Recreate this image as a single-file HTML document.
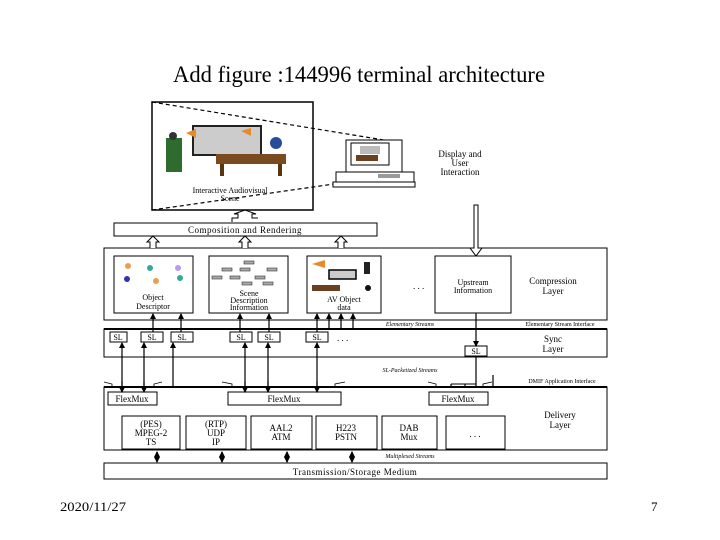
<!DOCTYPE html>
<html><head><meta charset="utf-8"><style>
html,body{margin:0;padding:0;background:#fff;width:720px;height:540px;overflow:hidden}
svg{display:block}
text{font-family:"Liberation Serif",serif;fill:#000}
</style></head><body>
<svg width="720" height="540" viewBox="0 0 720 540" xmlns="http://www.w3.org/2000/svg">
<defs>
<marker id="a" markerWidth="6" markerHeight="6" refX="5" refY="3" orient="auto" markerUnits="userSpaceOnUse"><path d="M0,0 L6,3 L0,6 z" fill="#000"/></marker>
<marker id="s" markerWidth="6" markerHeight="6" refX="5" refY="3" orient="auto-start-reverse" markerUnits="userSpaceOnUse"><path d="M0,0 L6,3 L0,6 z" fill="#000"/></marker>
</defs>
<text x="173" y="82" font-size="23" textLength="372" lengthAdjust="spacingAndGlyphs">Add figure :144996 terminal architecture</text>

<!-- scene -->
<rect x="152" y="102" width="161" height="108" fill="#fff" stroke="#000" stroke-width="1.5"/>
<line x1="152" y1="102" x2="402" y2="143" stroke="#000" stroke-dasharray="4,3" stroke-width="1.2"/>
<line x1="152" y1="210" x2="362" y2="180" stroke="#000" stroke-dasharray="4,3" stroke-width="1.2"/>
<rect x="193" y="126" width="68" height="29" fill="#ccc" stroke="#222" stroke-width="2"/>
<path d="M186,133 L196,129 L196,138 Z" fill="#e88a2a"/>
<path d="M241,131 L251,128 L251,136 Z" fill="#e88a2a"/>
<rect x="166" y="138" width="16" height="34" fill="#2e6b2e"/>
<circle cx="173" cy="136" r="4" fill="#333"/>
<rect x="216" y="154" width="70" height="10" fill="#7a4a20"/>
<rect x="220" y="164" width="4" height="12" fill="#5a3510"/>
<rect x="278" y="164" width="4" height="12" fill="#5a3510"/>
<circle cx="276" cy="143" r="6" fill="#2a4a9a"/>
<text x="230" y="193" font-size="8" text-anchor="middle">Interactive Audiovisual</text>
<text x="230" y="201" font-size="8" text-anchor="middle">Scene</text>
<!-- computer -->
<rect x="346" y="140" width="56" height="32" fill="#fff" stroke="#000"/>
<rect x="351" y="143" width="38" height="22" fill="#fff" stroke="#000"/>
<rect x="360" y="146" width="20" height="8" fill="#bbb"/>
<rect x="356" y="155" width="22" height="6" fill="#6a4020"/>
<rect x="336" y="172" width="78" height="10" fill="#fff" stroke="#000"/>
<rect x="378" y="174" width="22" height="4" fill="#999"/>
<rect x="333" y="182" width="82" height="5" fill="#fff" stroke="#000"/>
<text x="460" y="157" font-size="9" text-anchor="middle">Display and</text>
<text x="460" y="166" font-size="9" text-anchor="middle">User</text>
<text x="460" y="175" font-size="9" text-anchor="middle">Interaction</text>

<!-- composition -->
<path d="M232,222 L232,218 L238,218 L238,214 L234,214 L245,210 L256,214 L252,214 L252,218 L258,218" fill="none" stroke="#000"/>
<rect x="114" y="223" width="263" height="13" fill="#fff" stroke="#000"/>
<text x="245" y="233" font-size="9" text-anchor="middle" letter-spacing="0.5">Composition and Rendering</text>

<!-- compression layer -->
<rect x="104" y="248" width="503" height="72" fill="#fff" stroke="#000"/>
<g fill="#fff" stroke="#000">
<path d="M150,248 L150,242 L147,242 L153,236 L159,242 L156,242 L156,248"/>
<path d="M242,248 L242,242 L239,242 L245,236 L251,242 L248,242 L248,248"/>
<path d="M338,248 L338,242 L335,242 L341,236 L347,242 L344,242 L344,248"/>
<path d="M474,205 L474,248 L470,248 L476,256 L482,248 L478,248 L478,205 Z"/>
</g>
<rect x="114" y="256" width="79" height="57" fill="#fff" stroke="#000"/>
<rect x="209" y="256" width="79" height="57" fill="#fff" stroke="#000"/>
<rect x="307" y="256" width="74" height="57" fill="#fff" stroke="#000"/>
<rect x="435" y="256" width="76" height="57" fill="#fff" stroke="#000"/>
<circle cx="128" cy="266" r="3" fill="#e8a050"/><circle cx="150" cy="268" r="3" fill="#3a9"/><circle cx="178" cy="268" r="3" fill="#b9e"/>
<circle cx="127" cy="279" r="3" fill="#33a"/><circle cx="156" cy="281" r="3" fill="#e8a050"/><circle cx="180" cy="278" r="3" fill="#3a9"/>
<text x="153" y="300" font-size="8" text-anchor="middle">Object</text>
<text x="153" y="309" font-size="8" text-anchor="middle">Descriptor</text>
<g fill="#aaa" stroke="#333" stroke-width="0.6">
<rect x="244" y="261" width="10" height="3"/><rect x="222" y="268" width="10" height="3"/><rect x="240" y="268" width="10" height="3"/><rect x="267" y="268" width="10" height="3"/>
<rect x="212" y="276" width="10" height="3"/><rect x="230" y="276" width="10" height="3"/><rect x="255" y="276" width="10" height="3"/>
<rect x="242" y="282" width="10" height="3"/><rect x="263" y="282" width="10" height="3"/>
</g>
<text x="249" y="296" font-size="8" text-anchor="middle">Scene</text>
<text x="249" y="303" font-size="8" text-anchor="middle">Description</text>
<text x="249" y="310" font-size="8" text-anchor="middle">Information</text>
<path d="M312,264 L325,260 L325,268 Z" fill="#e88a2a"/>
<rect x="329" y="270" width="27" height="9" fill="#ccc" stroke="#000" stroke-width="1.5"/>
<rect x="312" y="285" width="28" height="6" fill="#6a4020"/>
<rect x="364" y="262" width="6" height="12" fill="#222"/><circle cx="368" cy="288" r="3" fill="#111"/>
<text x="344" y="302" font-size="8" text-anchor="middle">AV Object</text>
<text x="344" y="310" font-size="8" text-anchor="middle">data</text>
<text x="413" y="289" font-size="9">. . .</text>
<text x="473" y="285" font-size="8" text-anchor="middle">Upstream</text>
<text x="473" y="293" font-size="8" text-anchor="middle">Information</text>
<text x="553" y="284" font-size="9" text-anchor="middle">Compression</text>
<text x="553" y="294" font-size="9" text-anchor="middle">Layer</text>
<text x="410" y="326" font-size="6" font-style="italic" text-anchor="middle">Elementary Streams</text>
<text x="560" y="326" font-size="6" text-anchor="middle">Elementary Stream Interface</text>

<!-- sync layer -->
<rect x="104" y="329" width="503" height="28" fill="#fff" stroke="#000"/>
<line x1="104" y1="329" x2="607" y2="329" stroke="#000" stroke-width="2"/>
<g fill="#fff" stroke="#000">
<rect x="110" y="332" width="17" height="10"/><rect x="141" y="332" width="22" height="10"/><rect x="171" y="332" width="22" height="10"/>
<rect x="230" y="332" width="22" height="10"/><rect x="258" y="332" width="22" height="10"/><rect x="306" y="332" width="22" height="10"/>
<rect x="465" y="346" width="22" height="10"/>
</g>
<g font-size="8" text-anchor="middle">
<text x="118" y="340">SL</text><text x="152" y="340">SL</text><text x="182" y="340">SL</text>
<text x="241" y="340">SL</text><text x="269" y="340">SL</text><text x="317" y="340">SL</text><text x="476" y="354">SL</text>
</g>
<text x="337" y="341" font-size="9">. . .</text>
<text x="553" y="342" font-size="9" text-anchor="middle">Sync</text>
<text x="553" y="352" font-size="9" text-anchor="middle">Layer</text>
<g stroke="#000" stroke-width="1.2" marker-end="url(#a)">
<line x1="153" y1="332" x2="153" y2="314"/><line x1="181" y1="332" x2="181" y2="314"/>
<line x1="240" y1="332" x2="240" y2="314"/><line x1="269" y1="332" x2="269" y2="314"/>
<line x1="317" y1="332" x2="317" y2="314"/><line x1="329" y1="329" x2="329" y2="314"/><line x1="341" y1="329" x2="341" y2="314"/><line x1="353" y1="329" x2="353" y2="314"/>
<line x1="476" y1="313" x2="476" y2="346"/>
<line x1="122" y1="392" x2="122" y2="343"/><line x1="144" y1="392" x2="144" y2="343"/><line x1="173" y1="416" x2="173" y2="343"/>
<line x1="245" y1="392" x2="245" y2="343"/><line x1="268" y1="392" x2="268" y2="343"/><line x1="317" y1="392" x2="317" y2="343"/>
<line x1="476" y1="356" x2="476" y2="392"/><line x1="451" y1="384" x2="451" y2="392"/><line x1="465" y1="384" x2="465" y2="392"/>
<line x1="458" y1="405" x2="458" y2="416"/><line x1="493" y1="375" x2="493" y2="416"/>
<line x1="133" y1="416" x2="133" y2="405"/><line x1="282" y1="416" x2="282" y2="405"/>
</g>
<text x="410" y="372" font-size="6" font-style="italic" text-anchor="middle">SL-Packetized Streams</text>
<text x="562" y="383" font-size="6" text-anchor="middle">DMIF Application Interface</text>
<line x1="451" y1="384" x2="476" y2="384" stroke="#000"/>
<g stroke="#000" stroke-width="0.8" fill="none">
<path d="M104,382 L112,384 L112,392"/><path d="M154,392 L154,384 L162,382"/>
<path d="M222,382 L232,384 L232,392"/><path d="M335,392 L335,384 L345,382"/>
<path d="M428,382 L436,384 L436,392"/><path d="M483,392 L483,384 L492,382"/>
<path d="M112,407 L120,410 L120,416"/><path d="M176,416 L176,410 L188,408"/>
<path d="M264,409 L272,411 L272,416"/><path d="M290,416 L290,411 L298,409"/>
<path d="M438,409 L446,411 L446,416"/><path d="M503,416 L503,411 L512,409"/>
</g>

<!-- delivery layer -->
<rect x="104" y="387" width="503" height="63" fill="#fff" stroke="#000"/>
<line x1="104" y1="387" x2="607" y2="387" stroke="#000" stroke-width="2"/>
<g fill="#fff" stroke="#000">
<rect x="108" y="392" width="49" height="13"/><rect x="228" y="392" width="113" height="13"/><rect x="429" y="392" width="59" height="13"/>
<rect x="122" y="416" width="58" height="33"/><rect x="186" y="416" width="60" height="33"/><rect x="251" y="416" width="61" height="33"/>
<rect x="316" y="416" width="61" height="33"/><rect x="382" y="416" width="55" height="33"/><rect x="446" y="416" width="59" height="33"/>
</g>
<g stroke="#000" stroke-width="1.2" marker-end="url(#a)">
<line x1="122" y1="381" x2="122" y2="392"/><line x1="144" y1="381" x2="144" y2="392"/>
<line x1="245" y1="381" x2="245" y2="392"/><line x1="268" y1="381" x2="268" y2="392"/><line x1="317" y1="381" x2="317" y2="392"/>
</g>
<g font-size="9" text-anchor="middle">
<text x="132" y="402">FlexMux</text><text x="284" y="402">FlexMux</text><text x="458" y="402">FlexMux</text>
<text x="151" y="427">(PES)</text><text x="151" y="436">MPEG-2</text><text x="151" y="445">TS</text>
<text x="216" y="427">(RTP)</text><text x="216" y="436">UDP</text><text x="216" y="445">IP</text>
<text x="281" y="431">AAL2</text><text x="281" y="440">ATM</text>
<text x="346" y="431">H223</text><text x="346" y="440">PSTN</text>
<text x="409" y="431">DAB</text><text x="409" y="440">Mux</text>
<text x="475" y="437">. . .</text>
<text x="560" y="418">Delivery</text><text x="560" y="428">Layer</text>
</g>
<text x="410" y="458" font-size="6" font-style="italic" text-anchor="middle">Multiplexed Streams</text>
<g stroke="#000" stroke-width="1.5" marker-end="url(#s)" marker-start="url(#s)">
<line x1="157" y1="452" x2="157" y2="462"/><line x1="222" y1="452" x2="222" y2="462"/>
<line x1="287" y1="452" x2="287" y2="462"/><line x1="352" y1="452" x2="352" y2="462"/>
</g>
<rect x="104" y="463" width="503" height="16" fill="#fff" stroke="#000"/>
<text x="355" y="475" font-size="9" text-anchor="middle" letter-spacing="0.5">Transmission/Storage Medium</text>

<text x="60" y="511" font-size="13" textLength="66" lengthAdjust="spacingAndGlyphs">2020/11/27</text>
<text x="651" y="511" font-size="13">7</text>
</svg>
</body></html>
